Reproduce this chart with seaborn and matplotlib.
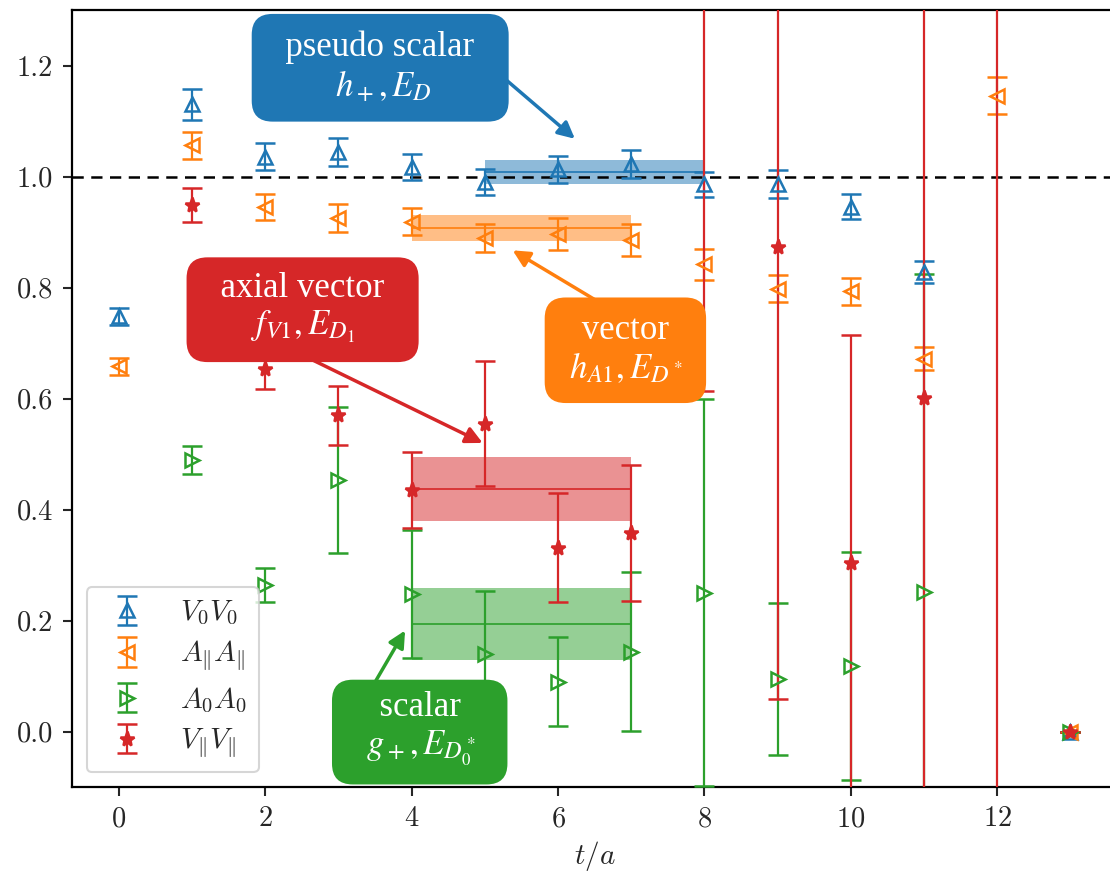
import numpy as np
import pandas as pd
import matplotlib
matplotlib.use("Agg")
import matplotlib.pyplot as plt
import seaborn as sns

nan = np.nan
t = list(range(14))

v0v0 = [0.748, 1.130, 1.036, 1.044, 1.017, 0.990, 1.013, 1.023, 0.986, 0.987, 0.946, 0.828, nan, 0.0]
v0v0_err = [0.016, 0.028, 0.025, 0.025, 0.024, 0.024, 0.024, 0.025, 0.023, 0.025, 0.022, 0.020, nan, 0.0]

apap = [0.658, 1.056, 0.945, 0.925, 0.919, 0.889, 0.896, 0.885, 0.842, 0.798, 0.793, 0.672, 1.146, 0.0]
apap_err = [0.015, 0.025, 0.024, 0.025, 0.024, 0.025, 0.029, 0.029, 0.028, 0.024, 0.025, 0.021, 0.033, 0.0]

a0a0 = [nan, 0.489, 0.264, 0.453, 0.248, 0.140, 0.090, 0.144, 0.250, 0.094, 0.118, 0.252, nan, 0.0]
a0a0_err = [nan, 0.025, 0.030, 0.132, 0.115, 0.114, 0.080, 0.143, 0.349, 0.137, 0.205, 0.573, nan, 0.0]

vpvp = [nan, 0.949, 0.654, 0.570, 0.435, 0.555, 0.331, 0.358, 1.450, 0.873, 0.304, 0.601, 1.600, 0.0]
vpvp_err = [nan, 0.030, 0.036, 0.053, 0.068, 0.113, 0.098, 0.123, 0.837, 0.815, 0.410, 0.800, 2.000, 0.0]

series_labels = [r"$V_0V_0$", r"$A_{\Vert}A_{\Vert}$", r"$A_0A_0$", r"$V_{\Vert}V_{\Vert}$"]
series_markers = ["^", "<", ">", "*"]
colors = ["#1f77b4", "#ff7f0e", "#2ca02c", "#d62728"]

# fit bands: start, end, center, half-width
fit_start = [5, 4, 4, 4]
fit_end = [8, 7, 7, 7]
fit_center = [1.008, 0.907, 0.193, 0.437]
fit_err = [0.022, 0.023, 0.065, 0.057]

box_line1 = ["pseudo scalar", "vector", "scalar", "axial vector"]
box_line2 = ["$h_+, E_D$", "$h_{A1}, E_{D^*}$", "$g_+, E_{D_0^*}$", "$f_{V1}, E_{D_1}$"]
box_xy = [(3.57, 1.196), (6.92, 0.687), (4.11, 0.004), (2.51, 0.762)]
arrow_tip = [(6.23, 1.068), (5.38, 0.867), (3.91, 0.182), (4.97, 0.520)]
arrow_from = [(1.0, 0.5), (0.45, 1.0), (0.15, 1.0), (0.4, 0.0)]
box_spaces = [2, 1, 2, 2]

sns.set_style("ticks")
plt.rcParams["font.family"] = ["cmr10", "DejaVu Serif"]
plt.rcParams["mathtext.fontset"] = "cm"
plt.rcParams["axes.formatter.use_mathtext"] = True
plt.rcParams["axes.unicode_minus"] = False

fig = plt.figure(figsize=(11.1, 8.74), dpi=100)
ax = fig.add_axes([0.0649, 0.0995, 0.9423, 0.889])

# fit bands
for i in range(4):
    xs = [fit_start[i], fit_end[i]]
    c = fit_center[i]
    e = fit_err[i]
    ax.fill_between(xs, [c - e] * 2, [c + e] * 2, color=colors[i], alpha=0.5, lw=0, zorder=1)
    df = pd.DataFrame({"x": xs, "y": [c, c]})
    sns.lineplot(data=df, x="x", y="y", color=colors[i], lw=1.2, ax=ax, zorder=1.5)

ax.axhline(1.0, color="black", ls="--", lw=1.8, dashes=(4.5, 3), zorder=1.8)

vals = [v0v0, apap, a0a0, vpvp]
errs = [v0v0_err, apap_err, a0a0_err, vpvp_err]
for i in range(4):
    star = series_markers[i] == "*"
    ax.errorbar(t, vals[i], yerr=errs[i], fmt=series_markers[i], color=colors[i],
                ms=11 if star else 10, mfc=colors[i] if star else "none", mew=1.8,
                elinewidth=1.6, capsize=7, capthick=1.6, label=series_labels[i], zorder=3)

for i in range(4):
    sp = " " * box_spaces[i]
    label = sp + box_line1[i] + sp + "\n" + sp + box_line2[i] + sp
    txt = ax.annotate(label, xy=arrow_tip[i], xytext=box_xy[i],
                      ha="center", va="center", color="white", fontsize=25,
                      family="Liberation Serif", linespacing=1.17,
                      bbox=dict(boxstyle="round,pad=0.48,rounding_size=0.6", fc=colors[i], ec="none"),
                      arrowprops=dict(arrowstyle="-|>", color=colors[i], lw=2.5,
                                      mutation_scale=25, shrinkA=0, shrinkB=0,
                                      patchA=None, relpos=arrow_from[i]),
                      zorder=5)
    txt.set_math_fontfamily("stix")

ax.set_xlim(-0.64, 13.65)
ax.set_ylim(-0.1, 1.3)
ax.set_xticks([0, 2, 4, 6, 8, 10, 12])
ax.set_yticks([0.0, 0.2, 0.4, 0.6, 0.8, 1.0, 1.2])
ax.yaxis.set_major_formatter(matplotlib.ticker.FormatStrFormatter("%.1f"))
ax.tick_params(labelsize=20.5, length=6.5, width=1.5, direction="out", pad=7)
for s in ax.spines.values():
    s.set_linewidth(1.6)
    s.set_color("black")
ax.set_xlabel(r"$t/a$", fontsize=21, labelpad=5)
ax.set_ylabel("")

leg = ax.legend(loc="lower left", fontsize=21, handlelength=2.0, borderpad=0.4,
                labelspacing=0.4, borderaxespad=0.5, fancybox=True, framealpha=0.8,
                edgecolor="0.8")
leg.get_frame().set_linewidth(1.5)

fig.savefig("out.png", dpi=100)
